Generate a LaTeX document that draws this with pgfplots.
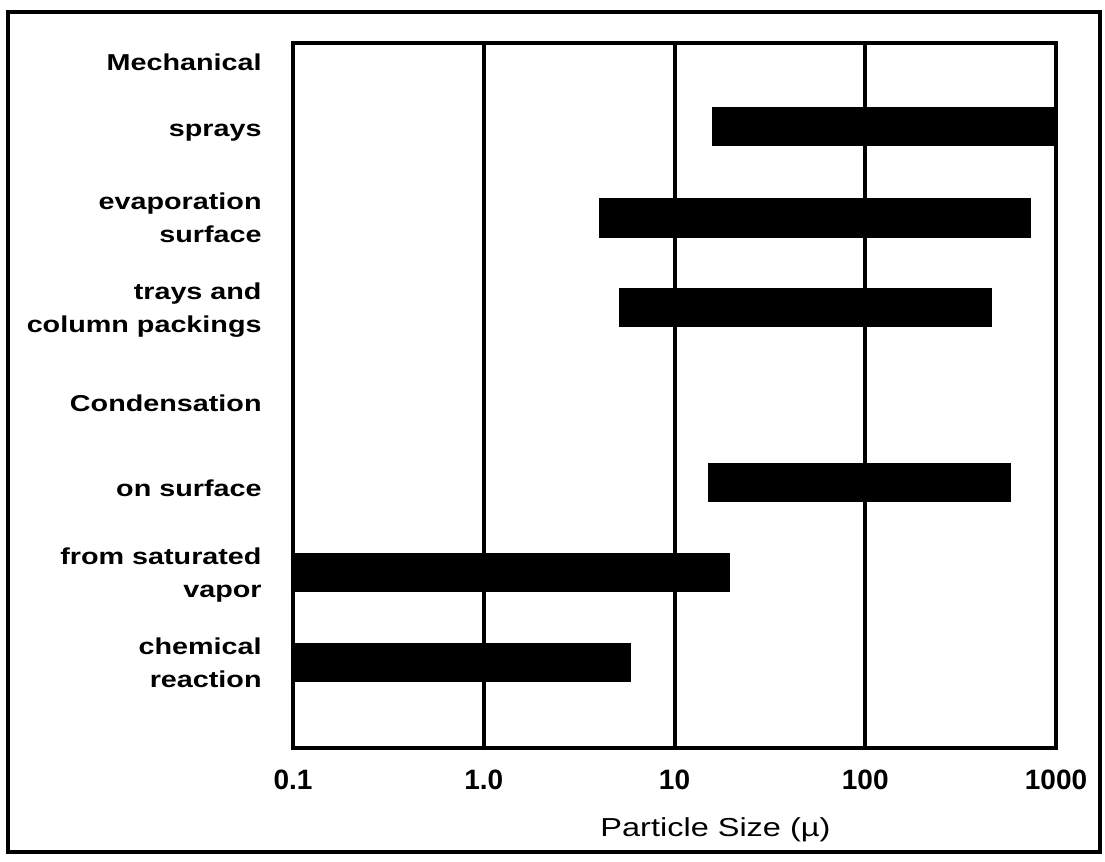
\documentclass[border=0pt]{standalone}
\usepackage{pgfplots}
\pgfplotsset{compat=1.18}
\usepackage{fontspec}
\setmainfont[FakeStretch=1.25]{Liberation Sans}
\newfontfamily\tickfont{Liberation Sans}
\begin{document}
\begin{tikzpicture}[x=1pt,y=1pt]
\path (0,0) rectangle (552.5,431);
\draw[line width=1.6pt] (4,5) rectangle (550,425);
\begin{axis}[
  at={(146.5pt,57pt)}, anchor=south west,
  scale only axis, width=381.5pt, height=352.5pt,
  xmode=log, xmin=0.1, xmax=1000,
  ymin=43, ymax=748, y dir=reverse,
  xtick={0.1,1,10,100,1000},
  xticklabels={0.1,1.0,10,100,1000},
  minor x tick num=0, xminorticks=false,
  major tick length=0,
  xmajorgrids,
  major grid style={line width=2pt, black},
  axis line style={line width=2.4pt},
  ytick={62,133,218,310,403,488,575,663},
  yticklabels={Mechanical, sprays, {evaporation\\surface}, {trays and\\column packings}, Condensation, on surface, {from saturated\\vapor}, {chemical\\reaction}},
  yticklabel style={font=\bfseries\fontsize{11.5}{16.5}\selectfont, align=right, anchor=east, inner sep=0pt, xshift=-15.5pt},
  xticklabel style={font=\tickfont\bfseries\fontsize{14}{14}\selectfont, anchor=north, inner sep=0pt, yshift=-11pt},
  xlabel={Particle Size (µ)},
  xlabel style={at={(axis description cs:0.5,0)}, anchor=center, yshift=-41pt, xshift=20.5pt, font=\fontsize{13}{13}\selectfont},
]
% sprays
\addplot[fill=black, draw=none] coordinates {(15.8,107) (1000,107) (1000,146) (15.8,146)} --cycle;
% evaporation surface
\addplot[fill=black, draw=none] coordinates {(4.0,198) (740,198) (740,238) (4.0,238)} --cycle;
% trays and column packings
\addplot[fill=black, draw=none] coordinates {(5.1,288) (460,288) (460,327) (5.1,327)} --cycle;
% on surface
\addplot[fill=black, draw=none] coordinates {(15.0,463) (580,463) (580,502) (15.0,502)} --cycle;
% from saturated vapor
\addplot[fill=black, draw=none] coordinates {(0.1,553) (19.5,553) (19.5,592) (0.1,592)} --cycle;
% chemical reaction
\addplot[fill=black, draw=none] coordinates {(0.1,643) (5.9,643) (5.9,682) (0.1,682)} --cycle;
\end{axis}
\end{tikzpicture}
\end{document}
